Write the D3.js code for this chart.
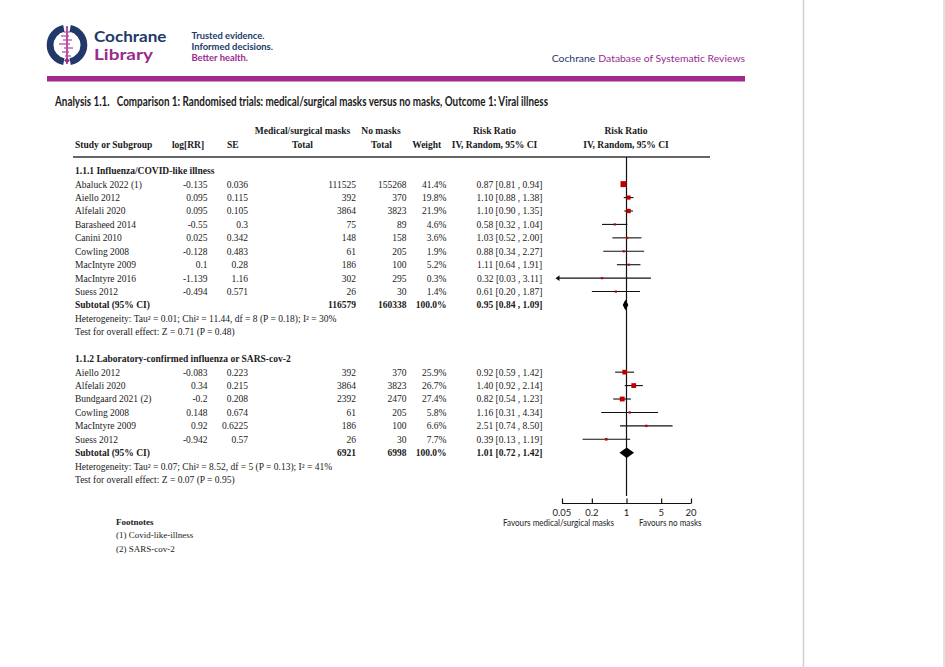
<!DOCTYPE html>
<html><head><meta charset="utf-8">
<script src="https://cdn.jsdelivr.net/npm/d3@7/dist/d3.min.js"></script>
<style>
body{margin:0;background:#fff;}
svg{display:block;}
.serif{font-family:"Liberation Serif","Times New Roman",serif;fill:#1a1a1a;}
.sans{font-family:Lato,"Open Sans",sans-serif;}
</style></head>
<body>
<svg id="chart" width="945" height="667"></svg>
<script>
// ---------------- DATA ----------------
const title = "Analysis 1.1.   Comparison 1: Randomised trials: medical/surgical masks versus no masks, Outcome 1: Viral illness";
const headerTop = ["Medical/surgical masks", "No masks", "Risk Ratio", "Risk Ratio"];
const headerBottom = ["Study or Subgroup", "log[RR]", "SE", "Total", "Total", "Weight", "IV, Random, 95% CI", "IV, Random, 95% CI"];

const group1Title = "1.1.1 Influenza/COVID-like illness";
const g1Study = ["Abaluck 2022 (1)", "Aiello 2012", "Alfelali 2020", "Barasheed 2014", "Canini 2010", "Cowling 2008", "MacIntyre 2009", "MacIntyre 2016", "Suess 2012"];
const g1LogRR = [-0.135, 0.095, 0.095, -0.55, 0.025, -0.128, 0.1, -1.139, -0.494];
const g1SE = [0.036, 0.115, 0.105, 0.3, 0.342, 0.483, 0.28, 1.16, 0.571];
const g1Masks = [111525, 392, 3864, 75, 148, 61, 186, 302, 26];
const g1NoMasks = [155268, 370, 3823, 89, 158, 205, 100, 295, 30];
const g1Weight = [41.4, 19.8, 21.9, 4.6, 3.6, 1.9, 5.2, 0.3, 1.4];
const g1RR = [0.87, 1.10, 1.10, 0.58, 1.03, 0.88, 1.11, 0.32, 0.61];
const g1Lo = [0.81, 0.88, 0.90, 0.32, 0.52, 0.34, 0.64, 0.03, 0.20];
const g1Hi = [0.94, 1.38, 1.35, 1.04, 2.00, 2.27, 1.91, 3.11, 1.87];
const g1Subtotal = {masks: 116579, noMasks: 160338, weight: 100.0, rr: 0.95, lo: 0.84, hi: 1.09};
const g1Het = "Heterogeneity: Tau² = 0.01; Chi² = 11.44, df = 8 (P = 0.18); I² = 30%";
const g1Test = "Test for overall effect: Z = 0.71 (P = 0.48)";

const group2Title = "1.1.2 Laboratory-confirmed influenza or SARS-cov-2";
const g2Study = ["Aiello 2012", "Alfelali 2020", "Bundgaard 2021 (2)", "Cowling 2008", "MacIntyre 2009", "Suess 2012"];
const g2LogRR = [-0.083, 0.34, -0.2, 0.148, 0.92, -0.942];
const g2SE = [0.223, 0.215, 0.208, 0.674, 0.6225, 0.57];
const g2Masks = [392, 3864, 2392, 61, 186, 26];
const g2NoMasks = [370, 3823, 2470, 205, 100, 30];
const g2Weight = [25.9, 26.7, 27.4, 5.8, 6.6, 7.7];
const g2RR = [0.92, 1.40, 0.82, 1.16, 2.51, 0.39];
const g2Lo = [0.59, 0.92, 0.54, 0.31, 0.74, 0.13];
const g2Hi = [1.42, 2.14, 1.23, 4.34, 8.50, 1.19];
const g2Subtotal = {masks: 6921, noMasks: 6998, weight: 100.0, rr: 1.01, lo: 0.72, hi: 1.42};
const g2Het = "Heterogeneity: Tau² = 0.07; Chi² = 8.52, df = 5 (P = 0.13); I² = 41%";
const g2Test = "Test for overall effect: Z = 0.07 (P = 0.95)";

const axisTicks = [0.05, 0.2, 1, 5, 20];
const axisLeftLabel = "Favours medical/surgical masks";
const axisRightLabel = "Favours no masks";
const footnotes = ["(1) Covid-like-illness", "(2) SARS-cov-2"];

// ---------------- LAYOUT ----------------
const svg = d3.select("#chart");
const NAVY = "#22386a", PURPLE = "#9a2a8e", RED = "#c00000";

// Page border lines
svg.append("line").attr("x1",803.5).attr("x2",803.5).attr("y1",0).attr("y2",667).attr("stroke","#cfcfcf").attr("stroke-width",1.5);
svg.append("line").attr("x1",944).attr("x2",944).attr("y1",0).attr("y2",667).attr("stroke","#d8d8d8").attr("stroke-width",1.5);

// Logo
const logo = svg.append("g").attr("transform","translate(67,45)");
const arc = d3.arc().innerRadius(13.5).outerRadius(20.3);
logo.append("path").attr("d", arc({startAngle: -Math.PI*0.94, endAngle: -Math.PI*0.06})).attr("fill", NAVY);
logo.append("path").attr("d", arc({startAngle: Math.PI*0.06, endAngle: Math.PI*0.94})).attr("fill", NAVY);
logo.append("line").attr("x1",0).attr("x2",0).attr("y1",-19).attr("y2",19).attr("stroke",PURPLE).attr("stroke-width",1.6);
const bars = [[-13,-3,3],[-9,-6,2],[-5,-4,5],[-1,-8,3],[3,-3,6],[7,-5,2],[11,-2,4]];
bars.forEach(b => logo.append("line").attr("x1",b[1]).attr("x2",b[2]).attr("y1",b[0]).attr("y2",b[0]).attr("stroke","#c04aa8").attr("stroke-width",1.3));
logo.append("path").attr("d","M0,13 L3,15.5 L0,18 L-3,15.5Z").attr("fill",PURPLE);

svg.append("text").attr("class","sans").attr("x",94).attr("y",42).attr("font-size",14.5).attr("font-weight",700)
  .attr("fill",NAVY).attr("textLength",72.5).attr("lengthAdjust","spacingAndGlyphs").text("Cochrane");
svg.append("text").attr("class","sans").attr("x",94).attr("y",59.5).attr("font-size",14.5).attr("font-weight",700)
  .attr("fill",PURPLE).attr("textLength",59).attr("lengthAdjust","spacingAndGlyphs").text("Library");
const tag = [["Trusted evidence.",39.3,73,NAVY],["Informed decisions.",50.3,81.5,NAVY],["Better health.",61,56.5,PURPLE]];
tag.forEach(t => svg.append("text").attr("class","sans").attr("x",191.5).attr("y",t[1]).attr("font-size",9.5)
  .attr("font-weight",700).attr("fill",t[3]).attr("textLength",t[2]).attr("lengthAdjust","spacingAndGlyphs").text(t[0]));

const dbText = svg.append("text").attr("class","sans").attr("x",745).attr("y",62).attr("font-size",10.4)
  .attr("text-anchor","end").attr("fill",PURPLE).text("Database of Systematic Reviews");
const dbW = dbText.node().getComputedTextLength();
svg.append("text").attr("class","sans").attr("x",745 - dbW - 3).attr("y",62).attr("font-size",10.4)
  .attr("text-anchor","end").attr("fill",NAVY).text("Cochrane");

svg.append("rect").attr("x",47).attr("y",76).attr("width",698).attr("height",5.5).attr("fill","#a1288f");

// Title
svg.append("text").attr("class","sans").attr("x",55).attr("y",106).attr("font-size",13.5).attr("font-weight",700)
  .attr("fill","#1a1a1a").attr("textLength",493).attr("lengthAdjust","spacingAndGlyphs").attr("xml:space","preserve").style("white-space","pre").text(title);

// Column positions
const COL = {study:75, logrr:207.5, se:248, masks:356, noMasks:406.5, weight:446.5, rrText:542.3};
const FS = 9.5;
const ROW0 = 170.7, ROWH = 13.43;
const rowY = i => ROW0 + i*ROWH;

// Header
const hdr = svg.append("g").attr("class","serif").attr("font-size",FS).attr("font-weight",700);
const topY = 134.3, botY = 147.6;
hdr.append("text").attr("x",302.5).attr("y",topY).attr("text-anchor","middle").text(headerTop[0]);
hdr.append("text").attr("x",381).attr("y",topY).attr("text-anchor","middle").text(headerTop[1]);
hdr.append("text").attr("x",494.5).attr("y",topY).attr("text-anchor","middle").text(headerTop[2]);
hdr.append("text").attr("x",626).attr("y",topY).attr("text-anchor","middle").text(headerTop[3]);
hdr.append("text").attr("x",75).attr("y",botY).text(headerBottom[0]);
hdr.append("text").attr("x",188).attr("y",botY).attr("text-anchor","middle").text(headerBottom[1]);
hdr.append("text").attr("x",227).attr("y",botY).text(headerBottom[2]);
hdr.append("text").attr("x",302.5).attr("y",botY).attr("text-anchor","middle").text(headerBottom[3]);
hdr.append("text").attr("x",381.5).attr("y",botY).attr("text-anchor","middle").text(headerBottom[4]);
hdr.append("text").attr("x",426.7).attr("y",botY).attr("text-anchor","middle").text(headerBottom[5]);
hdr.append("text").attr("x",494.5).attr("y",botY).attr("text-anchor","middle").text(headerBottom[6]);
hdr.append("text").attr("x",626).attr("y",botY).attr("text-anchor","middle").text(headerBottom[7]);
svg.append("line").attr("x1",73).attr("x2",710).attr("y1",157).attr("y2",157).attr("stroke","#333").attr("stroke-width",1.4);

// Scale
const x = d3.scaleLog().domain([0.05, 20]).range([562, 691]);
const plotTop = 157, plotBottom = 496, axisY = 503.5;

// Zero line
svg.append("line").attr("x1",x(1)).attr("x2",x(1)).attr("y1",plotTop).attr("y2",plotBottom).attr("stroke","#111").attr("stroke-width",1.2);

const fmtRR = (r,l,h) => `${r.toFixed(2)} [${l.toFixed(2)} , ${h.toFixed(2)}]`;
const tbl = svg.append("g").attr("class","serif").attr("font-size",FS);
const plot = svg.append("g");

function txt(xp, i, s, anchor, bold){
  tbl.append("text").attr("x",xp).attr("y",rowY(i)+3.4).attr("text-anchor",anchor||"start")
    .attr("font-weight",bold?700:400).text(s);
}

function drawGroup(start, gTitle, study, logrr, se, m, nm, w, rr, lo, hi, sub, het, test){
  txt(COL.study, start, gTitle, "start", true);
  study.forEach((s,k) => {
    const i = start+1+k, y = rowY(i);
    txt(COL.study, i, s);
    txt(COL.logrr, i, String(logrr[k]), "end");
    txt(COL.se, i, String(se[k]), "end");
    txt(COL.masks, i, String(m[k]), "end");
    txt(COL.noMasks, i, String(nm[k]), "end");
    txt(COL.weight, i, w[k].toFixed(1)+"%", "end");
    txt(COL.rrText, i, fmtRR(rr[k],lo[k],hi[k]), "end");
    const dmin = x.domain()[0], dmax = x.domain()[1];
    const x1 = lo[k] < dmin ? x(dmin)-5 : x(lo[k]);
    const x2 = hi[k] > dmax ? x(dmax)+5 : x(hi[k]);
    plot.append("line").attr("x1",x1).attr("x2",x2).attr("y1",y).attr("y2",y).attr("stroke","#111").attr("stroke-width",1.1);
    if (lo[k] < dmin){
      plot.append("path").attr("d",`M${x1-1.5},${y} L${x1+2.5},${y-2.8} L${x1+2.5},${y+2.8}Z`).attr("fill","#111");
    }
    const sz = Math.max(2.2, 0.93*Math.sqrt(w[k]));
    plot.append("rect").attr("x",x(rr[k])-sz/2).attr("y",y-sz/2).attr("width",sz).attr("height",sz).attr("fill",RED);
  });
  const si = start+1+study.length, sy = rowY(si);
  txt(COL.study, si, "Subtotal (95% CI)", "start", true);
  txt(COL.masks, si, String(sub.masks), "end", true);
  txt(COL.noMasks, si, String(sub.noMasks), "end", true);
  txt(COL.weight, si, sub.weight.toFixed(1)+"%", "end", true);
  txt(COL.rrText, si, fmtRR(sub.rr,sub.lo,sub.hi), "end", true);
  plot.append("path").attr("d",`M${x(sub.lo)},${sy} L${x(sub.rr)},${sy-5.2} L${x(sub.hi)},${sy} L${x(sub.rr)},${sy+5.2}Z`).attr("fill","#000");
  txt(COL.study, si+1, het);
  txt(COL.study, si+2, test);
}

drawGroup(0, group1Title, g1Study, g1LogRR, g1SE, g1Masks, g1NoMasks, g1Weight, g1RR, g1Lo, g1Hi, g1Subtotal, g1Het, g1Test);
drawGroup(14, group2Title, g2Study, g2LogRR, g2SE, g2Masks, g2NoMasks, g2Weight, g2RR, g2Lo, g2Hi, g2Subtotal, g2Het, g2Test);

// Axis
const axis = d3.axisTop(x).tickValues(axisTicks).tickSize(5).tickFormat("");
const ag = svg.append("g").attr("transform",`translate(0,${axisY})`).call(axis);
ag.select(".domain").attr("d",`M${x.range()[0]},0H${x.range()[1]}`).attr("stroke","#111").attr("stroke-width",1.2);
ag.selectAll(".tick line").attr("stroke","#111").attr("stroke-width",1.2);
const tl = svg.append("g").attr("class","sans").attr("font-size",9.5).attr("fill","#222");
axisTicks.forEach(t => tl.append("text").attr("x",x(t)).attr("y",515.8).attr("text-anchor","middle").text(String(t)));
tl.append("text").attr("x",614).attr("y",526).attr("text-anchor","end").attr("textLength",111).attr("lengthAdjust","spacingAndGlyphs").text(axisLeftLabel);
tl.append("text").attr("x",639).attr("y",526).attr("textLength",62.5).attr("lengthAdjust","spacingAndGlyphs").text(axisRightLabel);

// Footnotes
const fn = svg.append("g").attr("class","serif").attr("font-size",9);
fn.append("text").attr("x",116).attr("y",524.8).attr("font-weight",700).text("Footnotes");
footnotes.forEach((f,k) => fn.append("text").attr("x",116).attr("y",538.2+k*13.4).text(f));
</script>
</body></html>
